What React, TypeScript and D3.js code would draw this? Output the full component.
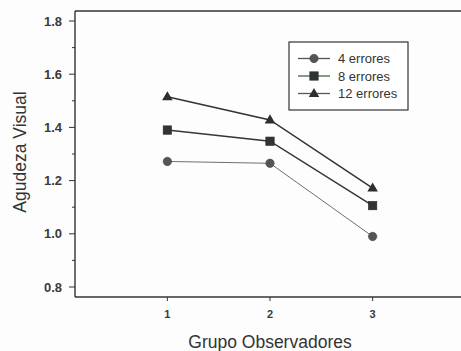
import React from "react";
import * as d3 from "d3";

// Observer groups on the x axis
const groups = [1, 2, 3];
// Mean visual acuity per group for each error count
const errors4 = [1.272, 1.265, 0.99];
const errors8 = [1.39, 1.348, 1.106];
const errors12 = [1.515, 1.428, 1.172];
const seriesLabels = ["4 errores", "8 errores", "12 errores"];
const yTicks = [0.8, 1.0, 1.2, 1.4, 1.6, 1.8];
const yMinorTicks = [0.9, 1.1, 1.3, 1.5, 1.7];

const W = 461;
const H = 351;
const left = 75;
const top = 11;
const bottom = 297;
const right = 465;

export default function App() {
  const x = d3.scaleLinear().domain([0.1, 3.9]).range([left, right]);
  const y = d3.scaleLinear().domain([0.7624, 1.8376]).range([bottom, top]);

  const line = d3
    .line<number>()
    .x((_, i) => x(groups[i]))
    .y((d) => y(d));

  const series = [
    { label: seriesLabels[0], values: errors4, lineColor: "#6f6f6f", lineWidth: 1, marker: "circle", legendLine: "#555555" },
    { label: seriesLabels[1], values: errors8, lineColor: "#2f3a30", lineWidth: 1.5, marker: "square", legendLine: "#3e6b44" },
    { label: seriesLabels[2], values: errors12, lineColor: "#2f3530", lineWidth: 1.5, marker: "triangle", legendLine: "#6b4a6b" },
  ];

  const triangle = d3.symbol(d3.symbolTriangle, 48)();

  const drawMarker = (kind: string, cx: number, cy: number, key: string) => {
    if (kind === "circle")
      return <circle key={key} cx={cx} cy={cy} r={4.2} fill="#555" stroke="#444" strokeWidth={0.6} />;
    if (kind === "square")
      return <rect key={key} x={cx - 4.2} y={cy - 4.2} width={8.4} height={8.4} fill="#333" stroke="#2a2a2a" strokeWidth={0.6} />;
    return <path key={key} d={triangle || ""} transform={`translate(${cx},${cy + 0.5})`} fill="#2e2e2e" />;
  };

  const font = "Liberation Sans, Arial, sans-serif";
  const ink = "#333";

  const legendX = 289;
  const legendY = 42;
  const legendRows = [58.5, 76, 93.5];

  return (
    <svg
      width={W}
      height={H}
      style={{ position: "absolute", left: 0, top: 0, background: "#fdfdfd" }}
      fontFamily={font}
    >
      {/* plot frame: left, top and bottom edges */}
      <line x1={left} x2={W} y1={top} y2={top} stroke={ink} strokeWidth={1.4} />
      <line x1={left} x2={W} y1={bottom} y2={bottom} stroke={ink} strokeWidth={1.4} />
      <line x1={left} x2={left} y1={top} y2={bottom} stroke={ink} strokeWidth={1.4} />

      {/* y axis ticks and labels */}
      {yTicks.map((t) => (
        <g key={`y${t}`}>
          <line x1={left - 6} x2={left} y1={y(t)} y2={y(t)} stroke={ink} strokeWidth={1} />
          <text
            x={62}
            y={y(t)}
            dy="0.36em"
            textAnchor="end"
            fontSize={13}
            fontWeight="bold"
            fill="#3a3a3a"
          >
            {t.toFixed(1)}
          </text>
        </g>
      ))}
      {yMinorTicks.map((t) => (
        <line key={`ym${t}`} x1={left - 3} x2={left} y1={y(t)} y2={y(t)} stroke={ink} strokeWidth={1} />
      ))}

      {/* x axis ticks and labels */}
      {groups.map((g) => (
        <g key={`x${g}`}>
          <line x1={x(g)} x2={x(g)} y1={bottom} y2={bottom + 4} stroke={ink} strokeWidth={1} />
          <text x={x(g)} y={318} textAnchor="middle" fontSize={11} fontWeight="bold" fill="#3a3a3a">
            {g}
          </text>
        </g>
      ))}

      {/* axis titles */}
      <text x={270} y={348} textAnchor="middle" fontSize={17.5} fill="#333">
        Grupo Observadores
      </text>
      <text
        transform={`translate(26,152) rotate(-90)`}
        textAnchor="middle"
        fontSize={17.5}
        fill="#333"
      >
        Agudeza Visual
      </text>

      {/* data lines and markers */}
      {series.map((s) => (
        <g key={s.label}>
          <path d={line(s.values) || ""} fill="none" stroke={s.lineColor} strokeWidth={s.lineWidth} />
          {s.values.map((v, i) => drawMarker(s.marker, x(groups[i]), y(v), `${s.label}-${i}`))}
        </g>
      ))}

      {/* legend */}
      <rect x={legendX} y={legendY} width={119} height={68} fill="#fff" stroke={ink} strokeWidth={1.2} />
      {series.map((s, i) => (
        <g key={`lg${s.label}`}>
          <line x1={298} x2={330} y1={legendRows[i]} y2={legendRows[i]} stroke={s.legendLine} strokeWidth={1.3} />
          {drawMarker(s.marker, 314, legendRows[i], `lgm${i}`)}
          <text x={338} y={legendRows[i]} dy="0.36em" fontSize={13} fill="#333">
            {s.label}
          </text>
        </g>
      ))}
    </svg>
  );
}
